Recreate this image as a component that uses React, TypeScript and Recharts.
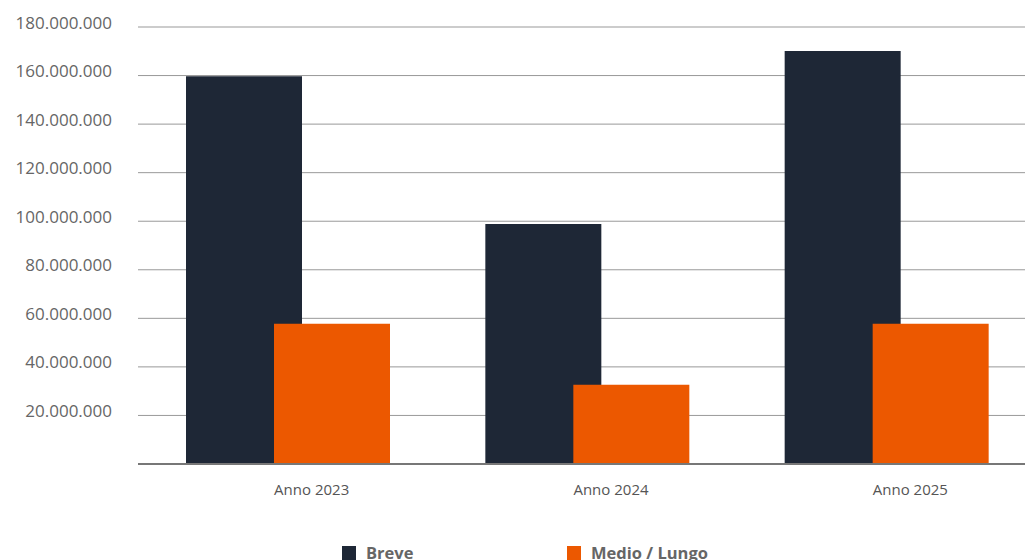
import React from "react";
import { BarChart, Bar, XAxis, YAxis, CartesianGrid } from "recharts";

const categories = ["Anno 2023", "Anno 2024", "Anno 2025"];
const breve = [159700000, 98900000, 170100000];
const medioLungo = [57800000, 32600000, 57800000];
const yTicks = [20000000, 40000000, 60000000, 80000000, 100000000, 120000000, 140000000, 160000000, 180000000];
const seriesNames = ["Breve", "Medio / Lungo"];
const seriesColors = ["#1e2736", "#ec5800"];

const data = categories.map((c, i) => ({ name: c, breve: breve[i], medio: medioLungo[i] }));

const fmt = (v: number) => v.toLocaleString("de-DE");

const YTick = (props: any) => {
  const { x, y, payload } = props;
  return (
    <text x={x} y={y - 5} textAnchor="end" dominantBaseline="central" fill="#666" fontSize={17} fontFamily="'Open Sans', sans-serif">
      {fmt(payload.value)}
    </text>
  );
};

const XTick = (props: any) => {
  const { x, y, payload } = props;
  return (
    <text x={x + 24} y={y + 25} textAnchor="middle" dominantBaseline="central" fill="#555" fontSize={15} fontFamily="'Open Sans', sans-serif">
      {payload.value}
    </text>
  );
};

export default function App() {
  return (
    <div style={{ position: "relative", width: 1033, height: 560, marginLeft: -8, marginTop: -8, overflow: "hidden" }}>
      <style>{"html,body{overflow:hidden}"}</style>
      <BarChart width={1033} height={560} data={data} margin={{ top: 27, right: -3, left: 0, bottom: 66 }} barSize={116} barGap={-28}>
        <CartesianGrid vertical={false} stroke="#999" horizontalValues={yTicks} />
        <YAxis
          width={138}
          domain={[0, 180000000]}
          ticks={yTicks}
          interval={0}
          axisLine={false}
          tickLine={false}
          tickSize={0}
          tickMargin={26}
          tick={<YTick />}
        />
        <XAxis
          dataKey="name"
          height={30}
          axisLine={{ stroke: "#777", strokeWidth: 2 }}
          tickLine={false}
          tickSize={0}
          tickMargin={0}
          tick={<XTick />}
        />
        <Bar dataKey="breve" name={seriesNames[0]} fill={seriesColors[0]} isAnimationActive={false} />
        <Bar dataKey="medio" name={seriesNames[1]} fill={seriesColors[1]} isAnimationActive={false} />
      </BarChart>
      <div style={{ position: "absolute", left: 0, top: 545, width: "100%", height: 30, fontFamily: "'Open Sans', sans-serif" }}>
        {seriesNames.map((n, i) => (
          <div key={n} style={{ position: "absolute", left: i === 0 ? 342 : 567, top: 0, display: "flex", alignItems: "center", whiteSpace: "nowrap" }}>
            <span style={{ display: "inline-block", width: 14, height: 14, background: seriesColors[i], marginRight: 10 }} />
            <span style={{ fontWeight: 700, fontSize: 16.5, color: "#666", lineHeight: "16px" }}>{n}</span>
          </div>
        ))}
      </div>
    </div>
  );
}
